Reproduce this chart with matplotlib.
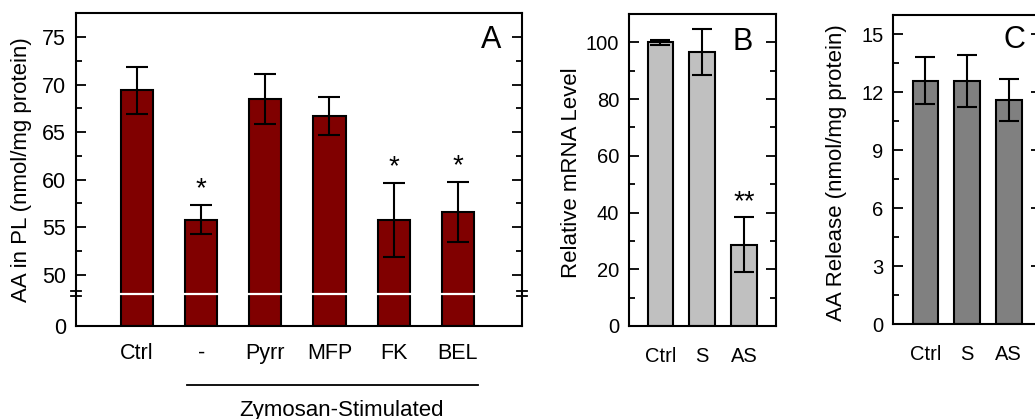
import numpy as np
import matplotlib.pyplot as plt
from matplotlib.transforms import offset_copy

plt.rcParams['font.family'] = ['Liberation Sans', 'DejaVu Sans']

# Panel A: AA in phospholipids
labels_a = ['Ctrl', '-', 'Pyrr', 'MFP', 'FK', 'BEL']
vals_a = [69.4, 55.8, 68.5, 66.7, 55.8, 56.6]
errs_a = [2.5, 1.55, 2.6, 1.95, 3.9, 3.2]
stars_a = ['', '*', '', '', '*', '*']

# Panel B: relative mRNA
labels_b = ['Ctrl', 'S', 'AS']
vals_b = [100.0, 96.6, 28.7]
errs_b = [0.8, 8.0, 9.8]
stars_b = ['', '', '**']

# Panel C: AA release
labels_c = ['Ctrl', 'S', 'AS']
vals_c = [12.6, 12.6, 11.6]
errs_c = [1.2, 1.35, 1.07]

brk = 48.0    # axis break value in panel A
lower = 3.4   # height (in upper-scale units) given to 0..brk


def fwd(v):
    v = np.asarray(v, dtype=float)
    return np.where(v < brk, v * lower / brk, lower + v - brk)


def inv(u):
    u = np.asarray(u, dtype=float)
    return np.where(u < lower, u * brk / lower, u - lower + brk)


def style_axes(ax, fs, xpad):
    for s in ax.spines.values():
        s.set_linewidth(1.5)
    ax.tick_params(axis='y', which='both', direction='in', left=True, right=True,
                   width=1.3, labelsize=fs, pad=7)
    ax.tick_params(axis='y', which='major', length=7)
    ax.tick_params(axis='y', which='minor', length=4)
    ax.tick_params(axis='x', length=0, labelsize=fs, pad=xpad)


fig = plt.figure(figsize=(10.35, 4.19), dpi=100)
ekw = dict(elinewidth=1.5, capthick=1.5, ecolor='black')

# ---- A ----
axA = fig.add_axes([0.0734, 0.222, 0.431, 0.746])
xa = np.arange(len(labels_a))
axA.set_yscale('function', functions=(fwd, inv))
axA.bar(xa, vals_a, 0.5, yerr=errs_a, color='#800000', edgecolor='black',
        linewidth=1.5, capsize=8, error_kw=ekw, zorder=1)
axA.set_xlim(-0.95, 6.0)
axA.set_ylim(0, 77.5)
axA.set_yticks([0, 50, 55, 60, 65, 70, 75])
axA.set_yticks([52.5, 57.5, 62.5, 67.5, 72.5], minor=True)
axA.set_yticklabels(['0', '50', '55', '60', '65', '70', '75'])
axA.set_xticks(xa)
axA.set_xticklabels(labels_a)
style_axes(axA, 15.5, 12)
axA.set_ylabel('AA in PL (nmol/mg protein)', fontsize=16)
axA.yaxis.set_label_coords(-0.098, 0.5)
axA.text(0.93, 0.915, 'A', transform=axA.transAxes, fontsize=22, ha='center', va='center')
axA.axhline(brk, color='white', lw=1.6, zorder=1.5)
for dy in (-2.5, 2.5):
    tr = offset_copy(axA.get_yaxis_transform(), fig=fig, y=dy, units='dots')
    for xs in (0, 1):
        axA.plot([xs - 0.012, xs + 0.012], [brk, brk], transform=tr, color='black',
                 lw=1.3, clip_on=False, zorder=3)
for x, v, e, s in zip(xa, vals_a, errs_a, stars_a):
    if s:
        axA.annotate(s, (x, v + e), xytext=(0, 2), textcoords='offset points',
                     ha='center', va='bottom', fontsize=20)
axA.plot([0.78, 5.32], [-0.19, -0.19], transform=axA.get_xaxis_transform(),
         color='black', lw=1.3, clip_on=False)
axA.text(3.19, -0.27, 'Zymosan-Stimulated', transform=axA.get_xaxis_transform(),
         ha='center', va='center', fontsize=16)

# ---- B ----
axB = fig.add_axes([0.6077, 0.222, 0.1420, 0.7445])
xb = np.arange(len(labels_b))
axB.bar(xb, vals_b, 0.61, yerr=errs_b, color='#c0c0c0', edgecolor='black',
        linewidth=1.5, capsize=7, error_kw=ekw)
axB.set_xlim(-0.75, 2.76)
axB.set_ylim(0, 110)
axB.set_yticks(np.arange(0, 101, 20))
axB.set_yticks(np.arange(10, 101, 20), minor=True)
axB.set_xticks(xb)
axB.set_xticklabels(labels_b)
style_axes(axB, 14.5, 15)
axB.set_ylabel('Relative mRNA Level', fontsize=16)
axB.yaxis.set_label_coords(-0.32, 0.49)
axB.text(0.772, 0.911, 'B', transform=axB.transAxes, fontsize=22, ha='center', va='center')
for x, v, e, s in zip(xb, vals_b, errs_b, stars_b):
    if s:
        axB.annotate(s, (x, v + e), xytext=(0, 1), textcoords='offset points',
                     ha='center', va='bottom', fontsize=20)

# ---- C ----
axC = fig.add_axes([0.8631, 0.2267, 0.1426, 0.7375])
xc = np.arange(len(labels_c))
axC.bar(xc, vals_c, 0.61, yerr=errs_c, color='#808080', edgecolor='black',
        linewidth=1.5, capsize=7, error_kw=ekw)
axC.set_xlim(-0.77, 2.77)
axC.set_ylim(0, 16)
axC.set_yticks(np.arange(0, 16, 3))
axC.set_yticks(np.arange(1.5, 16, 3), minor=True)
axC.set_xticks(xc)
axC.set_xticklabels(labels_c)
style_axes(axC, 14.5, 15)
axC.set_ylabel('AA Release (nmol/mg protein)', fontsize=16)
axC.yaxis.set_label_coords(-0.316, 0.49)
axC.text(0.824, 0.919, 'C', transform=axC.transAxes, fontsize=22, ha='center', va='center')

fig.savefig('out.png', dpi=100)
